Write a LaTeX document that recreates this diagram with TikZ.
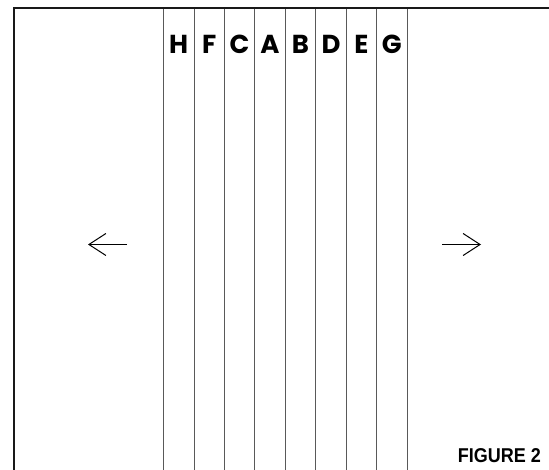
\documentclass[tikz,border=0pt]{standalone}
\usepackage{fontspec}
\setmainfont{Poppins}
\newfontfamily\capfont{Liberation Sans}
\usetikzlibrary{arrows.meta}
\begin{document}
\begin{tikzpicture}[x=1pt,y=-1pt,
  frameline/.style={line width=2pt,black!90},
  divline/.style={line width=0.9pt,black!65},
  letter/.style={font=\fontsize{26}{26}\selectfont\bfseries,inner sep=0pt,anchor=center},
  dirarrow/.style={line width=1pt,-{Straight Barb[length=17pt,width=22pt,line width=1pt]}},
  caption/.style={font=\capfont\bfseries\fontsize{20}{20}\selectfont,inner sep=0pt,anchor=east}]
\useasboundingbox (0,0) rectangle (549,470);
\fill[white] (0,0) rectangle (549,470);
% frame (left and top edges visible)
\draw[frameline] (13.5,470) -- (13.5,8.5) -- (549,8.5);
% vertical dividers
\foreach \i in {0,...,8} {
  \draw[divline] ({163.5+30.45*\i},9.5) -- ({163.5+30.45*\i},470);
}
% letters
\foreach \l [count=\i from 0] in {H,F,C,A,B,D,E,G} {
  \node[letter] (L\l) at ({163.5+30.45*\i+15.2},44) {\l};
}
% arrows
\coordinate (la) at (127,244.5);
\coordinate (lb) at (88,244.5);
\coordinate (ra) at (442,244.5);
\coordinate (rb) at (481,244.5);
\draw[dirarrow] (la) -- (lb);
\draw[dirarrow] (ra) -- (rb);
% caption
\node[caption] (fig) at (541,455.5) {\scalebox{0.9}[1]{FIGURE 2}};
\end{tikzpicture}
\end{document}
